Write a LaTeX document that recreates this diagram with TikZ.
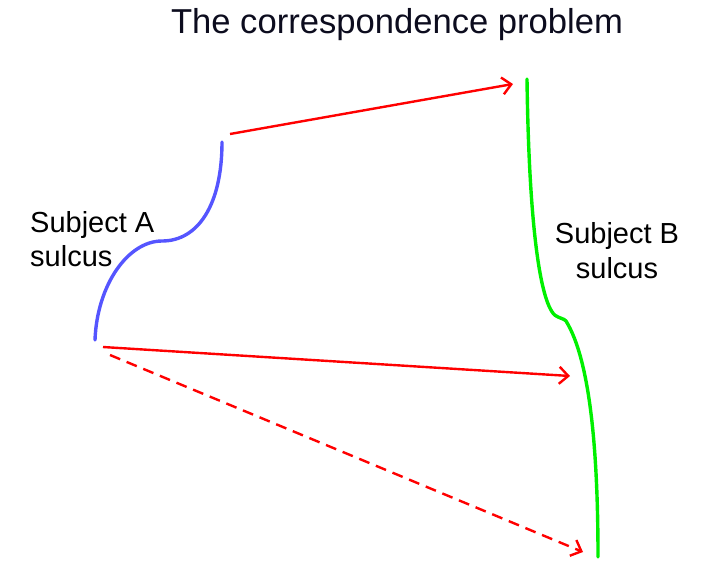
\documentclass[tikz,border=0pt]{standalone}
\usepackage{fontspec}
\setmainfont{Liberation Sans}
\usetikzlibrary{arrows.meta}
\definecolor{sulcA}{RGB}{85,85,255}
\definecolor{sulcB}{RGB}{0,240,0}
\definecolor{corr}{RGB}{255,0,0}
\definecolor{titlecol}{RGB}{12,12,30}
\tikzset{
  sulcusA/.style={draw=sulcA, line width=3.4pt, line cap=round},
  sulcusB/.style={draw=sulcB, line width=3.4pt, line cap=round},
  match/.style={draw=corr, line width=2.4pt, -{Straight Barb[length=9pt,width=17pt,line width=2.4pt]}},
  matchdash/.style={match, dash pattern=on 11pt off 7pt},
  lbl/.style={inner sep=0pt, font=\fontsize{29}{34}\selectfont},
}
\begin{document}
\begin{tikzpicture}[x=1pt,y=-1pt]
\useasboundingbox (0,0) rectangle (728,582);
% title
\node[anchor=base, inner sep=0pt, text=titlecol, font=\fontsize{34.6}{40}\selectfont] (title) at (397,33) {The correspondence problem};
% sulcus A
\coordinate (Atop) at (222,142);
\coordinate (Amid) at (162,241);
\coordinate (Abot) at (95,340);
\draw[sulcusA] (Abot) .. controls (97,285) and (128,241) .. (Amid)
  .. controls (198,241) and (222,205) .. (Atop);
% sulcus B
\coordinate (Btop) at (527,79);
\coordinate (Bk1) at (558,317);
\coordinate (Bk2) at (566,321);
\coordinate (Bbot) at (598,557);
\draw[sulcusB] (Btop) .. controls (529,230) and (541,312) .. (Bk1)
  .. controls (561,319) and (563,318) .. (Bk2)
  .. controls (590,360) and (598,450) .. (Bbot);
% labels
\node[lbl, align=left, anchor=north west] (labA) at (30,211) {Subject A\\sulcus};
\node[lbl, align=center, anchor=north, font=\fontsize{29}{35}\selectfont] (labB) at (617,222) {Subject B\\sulcus};
% correspondences
\coordinate (s1) at (230,134);
\coordinate (e1) at (513,84);
\coordinate (s2) at (103,347);
\coordinate (e2) at (570,376);
\coordinate (s3) at (110,355);
\coordinate (e3) at (583,552);
\draw[match] (s1) -- (e1);
\draw[match] (s2) -- (e2);
\draw[matchdash] (s3) -- (e3);
\end{tikzpicture}
\end{document}
